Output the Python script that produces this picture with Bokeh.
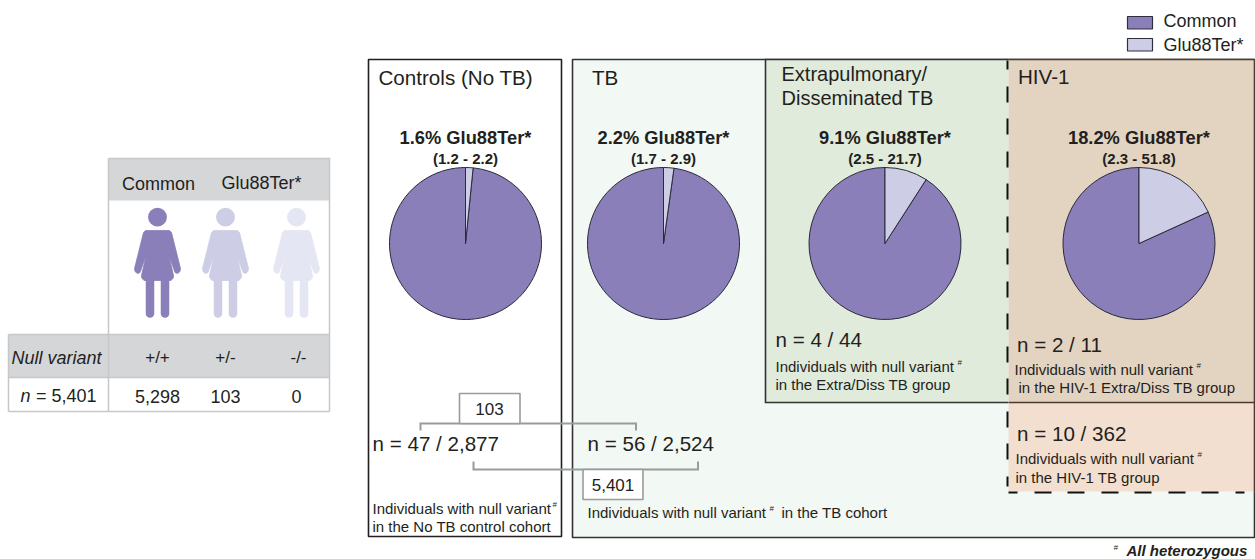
from bokeh.plotting import figure
from bokeh.embed import file_html
from bokeh.resources import INLINE
from bokeh.core.properties import value
import math

# ---- data
pie_pct = [1.6, 2.2, 9.1, 18.2]
pie_titles = ["1.6% Glu88Ter*", "2.2% Glu88Ter*", "9.1% Glu88Ter*", "18.2% Glu88Ter*"]
pie_cis = ["(1.2 - 2.2)", "(1.7 - 2.9)", "(2.5 - 21.7)", "(2.3 - 51.8)"]
legend_labels = ["Common", "Glu88Ter*"]
table_variants = ["+/+", "+/-", "-/-"]
table_counts = ["5,298", "103", "0"]

COMMON = "#8a7fb9"
GLU = "#cdcde6"
PALE = "#e5e6f3"
INK = "#231f20"
GREY = "#9a9b9d"
TBL = "#c6c7c9"
HDR = "#d5d6d8"
FONT = "Liberation Sans"

W, H = 1255, 559
p = figure(width=W, height=H, x_range=(0, W), y_range=(0, H),
           output_backend="svg", toolbar_location=None, min_border=0,
           outline_line_color=None)
p.xaxis.visible = False
p.yaxis.visible = False
p.grid.visible = False

Y = lambda py: H - py


def box(x0, y0, x1, y1, fill=None, line=None, lw=1.5):
    p.quad(left=[x0], right=[x1], top=[Y(y0)], bottom=[Y(y1)],
           fill_color=fill, fill_alpha=1 if fill else 0,
           line_color=line, line_alpha=1 if line else 0, line_width=lw)


def seg(xs, ys, color=INK, lw=1.5, dash="solid", cap="butt", offset=0):
    p.line(xs, [Y(v) for v in ys], line_color=color, line_width=lw,
           line_dash=dash, line_dash_offset=offset, line_cap=cap, line_join="miter")


def t(x, y, s, size=15, style="normal", align="left", color=INK):
    p.text([x], [Y(y - 0.347 * size)], text=[s], text_font=value(FONT),
           text_font_size=f"{size}px", text_font_style=style,
           text_align=align, text_baseline="middle", text_color=color)


# panels
box(368, 59, 561, 536, "#ffffff", INK, 1.6)
box(572, 59, 1254, 537, "#f2f8f4", "#333333", 1.6)
box(765, 59, 1008, 402, "#e0ebdc", None)
seg([1008, 765, 765, 1008], [59, 59, 402, 402], "#333333", 1.6)
box(1008, 59, 1254, 402, "#e3d4c1", None)
box(1008, 402, 1254, 491, "#f3dfd0", None)
seg([1008, 1254], [402, 402], "#4a3a32", 1.6)
seg([1008, 1254], [59, 59], "#4a3a32", 1.6)
seg([1254, 1254], [59, 491], "#4a3a32", 1.6)
seg([1007, 1007], [60, 486], "#111111", 2, "16 17 16 16", offset=7)
seg([1008, 1244], [492, 492], "#111111", 2, "17 17 17 16", offset=8)

# legend
for yy, c, lab, base in zip([16, 38], [COMMON, GLU], legend_labels, [26.5, 51]):
    box(1127, yy, 1152, yy + 12.5, c, "#2e2e3e", 1.2)
    t(1163, base, lab, 18)

# left table
box(108, 158, 329, 200, HDR, None)
box(8, 334, 329, 377, HDR, None)
seg([108, 329, 329], [158, 158, 411], TBL, 1.5)
seg([108, 108], [158, 411], TBL, 1.5)
seg([8, 8], [334, 411], TBL, 1.5)
seg([8, 329], [334, 334], TBL, 1.5)
seg([8, 329], [377, 377], TBL, 1.5)
seg([8, 329], [411, 411], TBL, 1.5)
t(158, 190, legend_labels[0], 18, align="center")
t(261, 189, legend_labels[1], 18, align="center")
t(11, 364, "Null variant", 18, "italic")
t(20, 402, "n", 18, "italic")
t(35.5, 402, "= 5,401", 18)
col_x = [157, 225, 298]
for cx, v, c in zip(col_x, table_variants, table_counts):
    t(cx, 363, v, 17, align="center")
    t(cx if c != "0" else 296, 402, c, 18, align="center")


# person icons
ICON_DX = [12, 14, 23, 22.5, 20, 17.5, 11.5, 16, 16, 13.5]
ICON_Y = [230, 232, 268, 271, 273, 272, 255, 275, 277, 280]


def person(cx, color):
    p.scatter([cx], [Y(216.7)], size=18.8, marker="circle", fill_color=color, line_color=None)
    xs = [cx + d for d in ICON_DX] + [cx - d for d in reversed(ICON_DX)]
    ys = [Y(v) for v in ICON_Y + list(reversed(ICON_Y))]
    p.patch(xs, ys, fill_color=color, line_color=color, line_width=0.8, line_join="round")
    for sgn in (-1, 1):
        seg([cx + sgn * 7.5, cx + sgn * 7.5], [279, 313], color, 8.5, cap="round")


person(157, COMMON)
person(225, GLU)
person(296, PALE)

# panel headings
t(378, 84.5, "Controls (No TB)", 20.6)
t(591.5, 84.5, "TB", 20.6)
t(781, 80.5, "Extrapulmonary/", 20)
t(781, 104.5, "Disseminated TB", 20)
t(1017.5, 83.5, "HIV-1", 20.6)

# pies
pie_cx = [465, 663, 884.5, 1138.5]
PIE_R = 76
for cx, pct, title, ci in zip(pie_cx, pie_pct, pie_titles, pie_cis):
    a = math.pi / 2 - 2 * math.pi * pct / 100
    p.wedge([cx], [Y(243)], radius=PIE_R, start_angle=math.pi / 2, end_angle=a,
            direction="anticlock", fill_color=COMMON, line_color="#2a2a3a", line_width=1)
    p.wedge([cx], [Y(243)], radius=PIE_R, start_angle=a, end_angle=math.pi / 2,
            direction="anticlock", fill_color=GLU, line_color="#2a2a3a", line_width=1)
    t(cx, 143.5, title, 18.3, "bold", "center")
    t(cx, 163, ci, 15, "bold", "center")

# brackets
seg([420, 420, 635.5, 635.5], [430, 423, 423, 430], GREY, 2)
seg([473, 473, 697.5, 697.5], [461, 469, 469, 461], GREY, 2)
box(459, 393, 519.5, 423, "#ffffff", GREY, 1.6)
box(582.5, 469, 642.5, 499, "#ffffff", GREY, 1.6)
t(489, 414, "103", 17, align="center")
t(612.5, 490, "5,401", 17, align="center")

# counts and notes
C = 20.6
t(372, 450, "n = 47 / 2,877", C)
t(587, 450, "n = 56 / 2,524", C)
t(775, 346, "n = 4 / 44", C)
t(1016.5, 351, "n = 2 / 11", C)
t(1016.5, 440, "n = 10 / 362", C)
NOTE = 15
t(372, 513, "Individuals with null variant", NOTE)
t(552, 507, "#", 8)
t(372, 531, "in the No TB control cohort", NOTE)
t(587, 517, "Individuals with null variant", NOTE)
t(769, 511, "#", 8)
t(781, 517, "in the TB cohort", NOTE)
t(775, 371, "Individuals with null variant", NOTE)
t(957, 365, "#", 8)
t(775, 389, "in the Extra/Diss TB group", NOTE)
t(1014, 374, "Individuals with null variant", NOTE)
t(1196, 368, "#", 8)
t(1018, 392, "in the HIV-1 Extra/Diss TB group", NOTE)
t(1015, 463, "Individuals with null variant", NOTE)
t(1197, 457, "#", 8)
t(1015, 482, "in the HIV-1 TB group", NOTE)
t(1113, 550, "#", 8, "italic")
t(1126, 555.5, "All heterozygous", 15, "bold italic")

open("out.html", "w").write(file_html(p, INLINE))
